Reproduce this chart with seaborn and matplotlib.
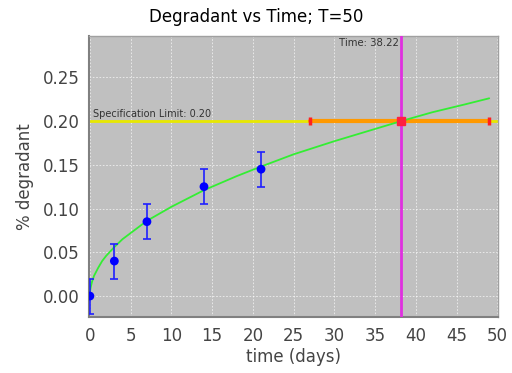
import numpy as np
import pandas as pd
import seaborn as sns
import matplotlib
matplotlib.use('Agg')
import matplotlib.pyplot as plt

# measured points
days = [0, 3, 7, 14, 21]
degradant = [0.0, 0.04, 0.085, 0.125, 0.145]
err = [0.02, 0.02, 0.02, 0.02, 0.02]

# fitted curve
fit_days = [0, 0.03, 0.1, 0.25, 0.5, 1, 1.5, 2, 3, 4, 5, 7, 10, 14, 18, 21, 25, 30, 35, 38.22, 42, 46, 49]
fit_deg = [0.0, 0.006, 0.010, 0.016, 0.023, 0.032, 0.040, 0.046, 0.056, 0.065, 0.072, 0.086, 0.102,
           0.121, 0.137, 0.148, 0.162, 0.177, 0.191, 0.200, 0.210, 0.219, 0.226]

spec_limit = 0.20
spec_range = [0, 50]
ci_range = [27, 49]
cross_time = 38.22

sns.set_style('whitegrid')
fig = plt.figure(figsize=(5.12, 3.73), dpi=100)
ax = fig.add_axes([0.174, 0.150, 0.799, 0.753])
ax.set_facecolor('#C0C0C0')
ax.grid(True, color='white', linestyle=(0, (2, 2)), linewidth=0.6, alpha=0.75)

ax.plot(spec_range, [spec_limit, spec_limit], color='#E8E800', lw=2, zorder=2)
ax.plot(ci_range, [spec_limit, spec_limit], color='#FF9900', lw=3, zorder=3)
ax.plot(ci_range, [spec_limit, spec_limit], ls='none', marker='|', ms=6, mew=2.5, color='#FF2020', zorder=4)
ax.axvline(cross_time, color='#E030E0', lw=2, zorder=3)
ax.plot([cross_time], [spec_limit], marker='s', ms=6, color='#FF2040', zorder=5)

fit = pd.DataFrame({'t': fit_days, 'y': fit_deg})
sns.lineplot(data=fit, x='t', y='y', color='#33EE33', lw=1.3, ax=ax, zorder=4)

ax.errorbar(days, degradant, yerr=err, fmt='none', ecolor='#2020FF', elinewidth=1.2,
            capsize=3, capthick=1.2, zorder=5)
pts = pd.DataFrame({'t': days, 'y': degradant})
sns.scatterplot(data=pts, x='t', y='y', color='#0000FF', s=40, edgecolor='none', ax=ax, zorder=6)

ax.text(0.4, spec_limit + 0.002, 'Specification Limit: 0.20', fontsize=7, color='#333333',
        va='bottom', ha='left')
ax.text(cross_time - 0.3, 0.289, 'Time: 38.22', fontsize=7.3, color='#333333',
        va='center', ha='right')

ax.set_xlim(-0.1, 50.1)
ax.set_ylim(-0.024, 0.297)
ax.set_xticks(np.arange(0, 51, 5))
ax.set_yticks([0.0, 0.05, 0.10, 0.15, 0.20, 0.25])
ax.set_yticklabels(['0.00', '0.05', '0.10', '0.15', '0.20', '0.25'])
ax.tick_params(axis='both', labelsize=12, colors='#444444', length=3, color='#BBBBBB', pad=4)

for s in ['left', 'bottom']:
    ax.spines[s].set_color('#808080')
    ax.spines[s].set_linewidth(1.5)
for s in ['top', 'right']:
    ax.spines[s].set_color('#A0A0A0')
    ax.spines[s].set_linewidth(1)

fig.text(0.5, 0.955, 'Degradant vs Time; T=50', fontsize=12, color='black', ha='center', va='center')
ax.set_xlabel('time (days)', fontsize=12, color='#444444', labelpad=2)
ax.set_ylabel('% degradant', fontsize=12, color='#444444', labelpad=6)

fig.savefig('out.png', dpi=100)
